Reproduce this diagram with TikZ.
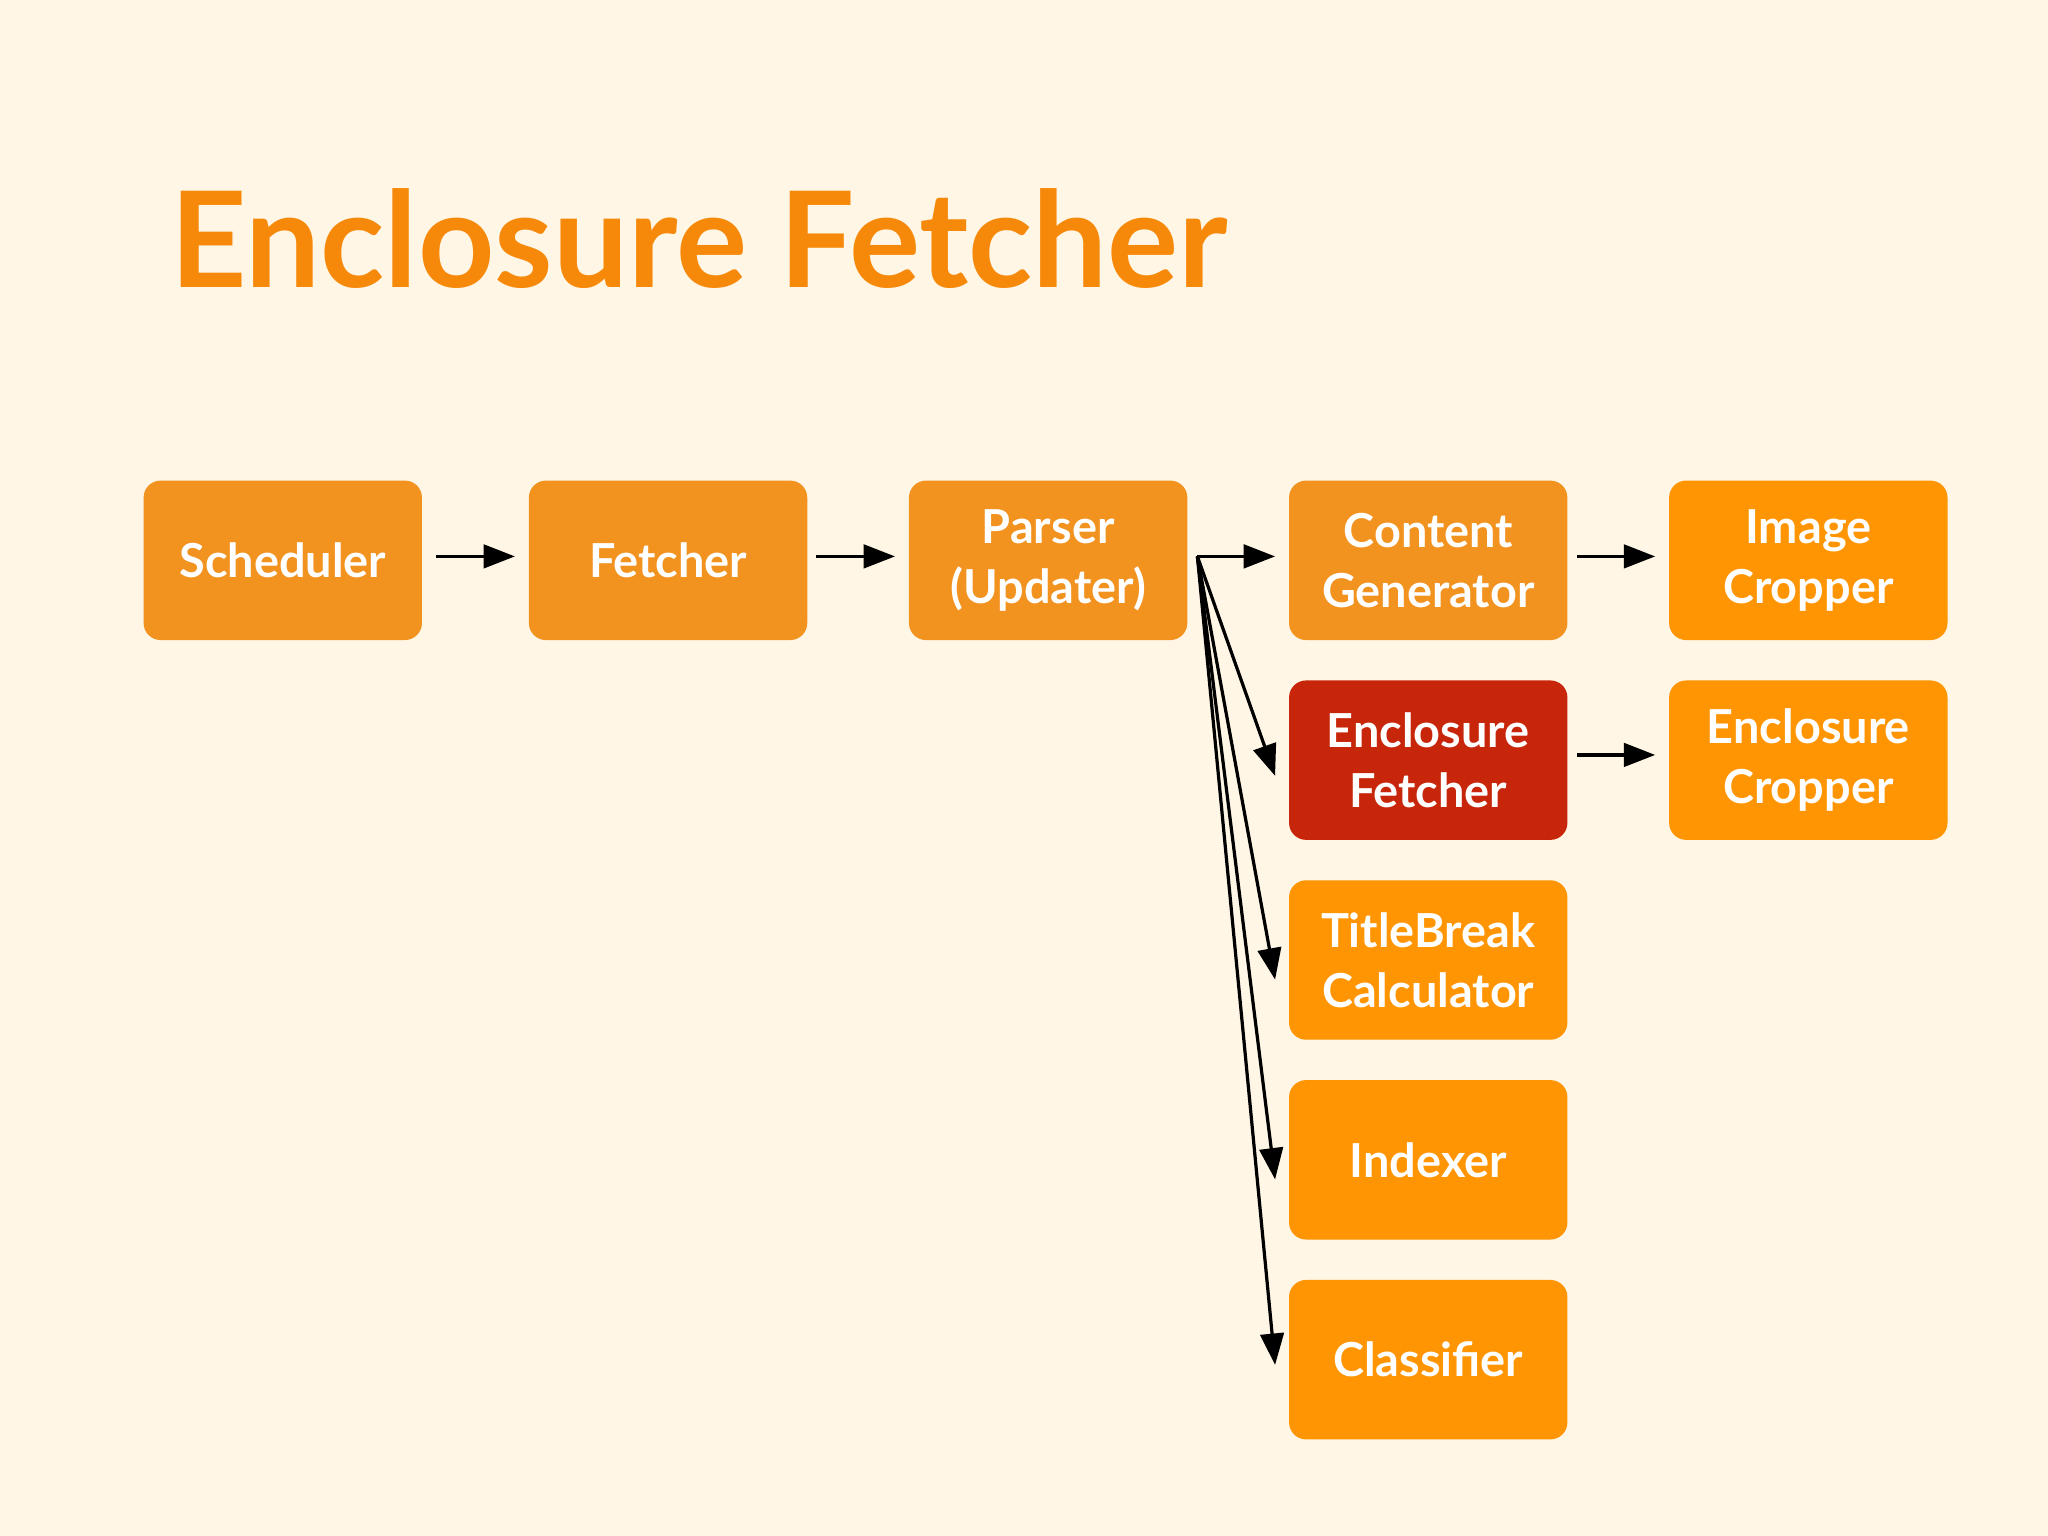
\documentclass[tikz,border=0pt]{standalone}
\usepackage{fontspec}
\setmainfont{Lato}
\usetikzlibrary{arrows.meta,calc}
\definecolor{bg}{HTML}{FFF6E5}
\definecolor{boxa}{HTML}{F2921F}
\definecolor{boxb}{HTML}{FF9503}
\definecolor{boxr}{HTML}{C7260A}
\definecolor{ttl}{HTML}{F7890A}
\begin{document}
\begin{tikzpicture}[x=0.01cm,y=-0.01cm,
  box/.style={rounded corners=0.13cm,minimum width=2.13cm,minimum height=1.22cm,inner sep=0pt,
    text=white,font=\fontsize{10.2pt}{13pt}\selectfont\bfseries,align=center},
  a/.style={box,fill=boxa},
  b/.style={box,fill=boxb},
  r/.style={box,fill=boxr},
  arr/.style={-{Triangle[length=2.4mm,width=1.8mm]},line width=0.7pt,black}]
\useasboundingbox[fill=bg] (0,0) rectangle (1568,1176);
\node[text=ttl,font=\fontsize{29pt}{34pt}\selectfont\bfseries,anchor=west] (title) at (118,183) {Enclosure Fetcher};
\node[a] (sch) at (216.5,429) {Scheduler};
\node[a] (fet) at (511.5,429) {Fetcher};
\node[a] (par) at (802.5,429) {Parser\\(Updater)};
\node[a] (cg) at (1093.5,429) {Content\\Generator};
\node[b] (ic) at (1384.5,429) {Image\\Cropper};
\node[r] (ef) at (1093.5,582) {Enclosure\\Fetcher};
\node[b] (ec) at (1384.5,582) {Enclosure\\Cropper};
\node[b] (tb) at (1093.5,735) {TitleBreak\\Calculator};
\node[b] (ix) at (1093.5,888) {Indexer};
\node[b] (cl) at (1093.5,1041) {Classifier};
\coordinate (p) at ($(par.east)+(7,-3)$);
\draw[arr] ($(sch.east)+(10,-3)$) -- ($(fet.west)+(-10,-3)$);
\draw[arr] ($(fet.east)+(6,-3)$) -- ($(par.west)+(-10,-3)$);
\draw[arr] (p) -- ($(cg.west)+(-10,-3)$);
\draw[arr] ($(cg.east)+(7,-3)$) -- ($(ic.west)+(-10,-3)$);
\draw[arr] ($(ef.east)+(7,-4)$) -- ($(ec.west)+(-10,-4)$);
\draw[arr] (p) -- ($(ef.west)+(-10,12)$);
\draw[arr] (p) -- ($(tb.west)+(-10,15)$);
\draw[arr] (p) -- ($(ix.west)+(-10,15)$);
\draw[arr] (p) -- ($(cl.west)+(-10,4)$);
\end{tikzpicture}
\end{document}
